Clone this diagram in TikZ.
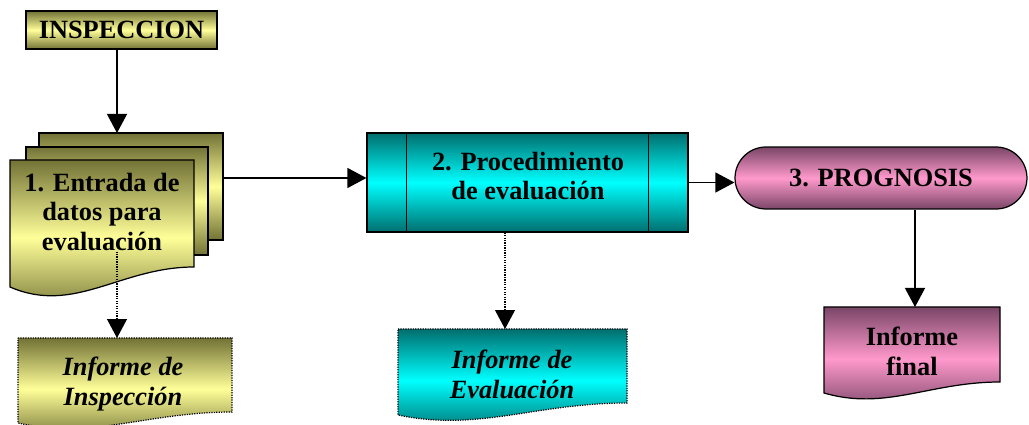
\documentclass[tikz,border=0pt]{standalone}
\usepackage{fontspec}
\setmainfont{Liberation Serif}
\usetikzlibrary{arrows.meta}

\definecolor{oliveDark}{HTML}{727236}
\definecolor{oliveLight}{HTML}{FFFF99}
\definecolor{tealDark}{HTML}{006E6E}
\definecolor{tealLight}{HTML}{00FFFF}
\definecolor{pinkDark}{HTML}{7A4668}
\definecolor{pinkLight}{HTML}{FF99CC}

\tikzset{
  olivegrad/.style={top color=oliveDark,bottom color=oliveDark,middle color=oliveLight},
  tealgrad/.style={top color=tealDark,bottom color=tealDark,middle color=tealLight},
  pinkgrad/.style={top color=pinkDark,bottom color=pinkDark,middle color=pinkLight},
  edge/.style={draw=black,line width=0.7pt},
  dots/.style={draw=black,line width=0.7pt,dash pattern=on 0.7pt off 0.7pt},
  arr/.style={line width=0.7pt,-{Triangle[width=0.4cm,length=0.38cm]}},
  bigtxt/.style={font=\fontsize{15}{17}\selectfont\bfseries,align=center,inner sep=0pt},
  reptxt/.style={bigtxt,font=\fontsize{15}{17}\selectfont\bfseries\itshape}
}

% hoja con borde inferior ondulado: estilo, izq, arriba, der, abajo izq, abajo der, control
\newcommand{\hoja}[7]{%
  \path[#1] (#2,#3) -- (#4,#3) -- (#4,#6)
    .. controls ({#2+0.6*(#4-#2)},#6) and ({#2+0.35*(#4-#2)},#7) .. (#2,#5) -- cycle;}

\begin{document}
\begin{tikzpicture}[x=0.02cm,y=-0.02cm]
	\useasboundingbox (0,0) rectangle (1029,425);
	\clip (0,0) rectangle (1029,425);

	\node[edge,olivegrad,minimum width=3.82cm,minimum height=0.76cm,bigtxt] (insp) at (121.5,30) {INSPECCION};

	% pila de documentos
	\path[edge,olivegrad] (39,133) rectangle (223,240);
	\path[edge,olivegrad] (26,147) rectangle (208,255);
	\hoja{edge,olivegrad}{10}{160}{194}{287}{267}{315}
	\coordinate (pila) at (117,133);
	\coordinate (pilader) at (223,178);
	\node[bigtxt] (entrada) at (102,212) {1. Entrada de\\datos para\\evaluación};

	% proceso
	\node[edge,tealgrad,minimum width=6.42cm,minimum height=1.98cm] (proc) at (527.5,182.5) {};
	\draw[edge] ([xshift=0.8cm]proc.north west) -- ([xshift=0.8cm]proc.south west);
	\draw[edge] ([xshift=-0.8cm]proc.north east) -- ([xshift=-0.8cm]proc.south east);
	\node[bigtxt] (proctxt) at (528,176) {2. Procedimiento\\de evaluación};

	\node[edge,pinkgrad,rounded corners=0.62cm,minimum width=5.84cm,minimum height=1.24cm,bigtxt] (prog) at (881,178) {3. PROGNOSIS};

	% informes
	\hoja{edge,pinkgrad}{824}{307}{1000}{393}{382}{411}
	\coordinate (fintop) at (915,307);
	\node[bigtxt] (final) at (912,351) {Informe\\final};

	\hoja{dots,olivegrad}{18}{338}{232}{423}{412}{440}
	\coordinate (insptop) at (117,338);
	\node[reptxt] (repinsp) at (123,384) {Informe de\\Inspección};

	\hoja{dots,tealgrad}{398}{329}{627}{415}{403}{432}
	\coordinate (evaltop) at (505,329);
	\node[reptxt] (repeval) at (512,374) {Informe de\\Evaluación};

	\draw[arr] (insp.south -| pila) -- (pila);
	\draw[arr] (pilader) -- (pilader -| proc.west);
	\draw[arr] (proc.east) -- (proc.east -| prog.west);
	\draw[arr] (fintop |- prog.south) -- (fintop);
	\draw[arr,dots] (entrada.south -| insptop) -- (insptop);
	\draw[arr,dots] (proc.south -| evaltop) -- (evaltop);
\end{tikzpicture}
\end{document}
